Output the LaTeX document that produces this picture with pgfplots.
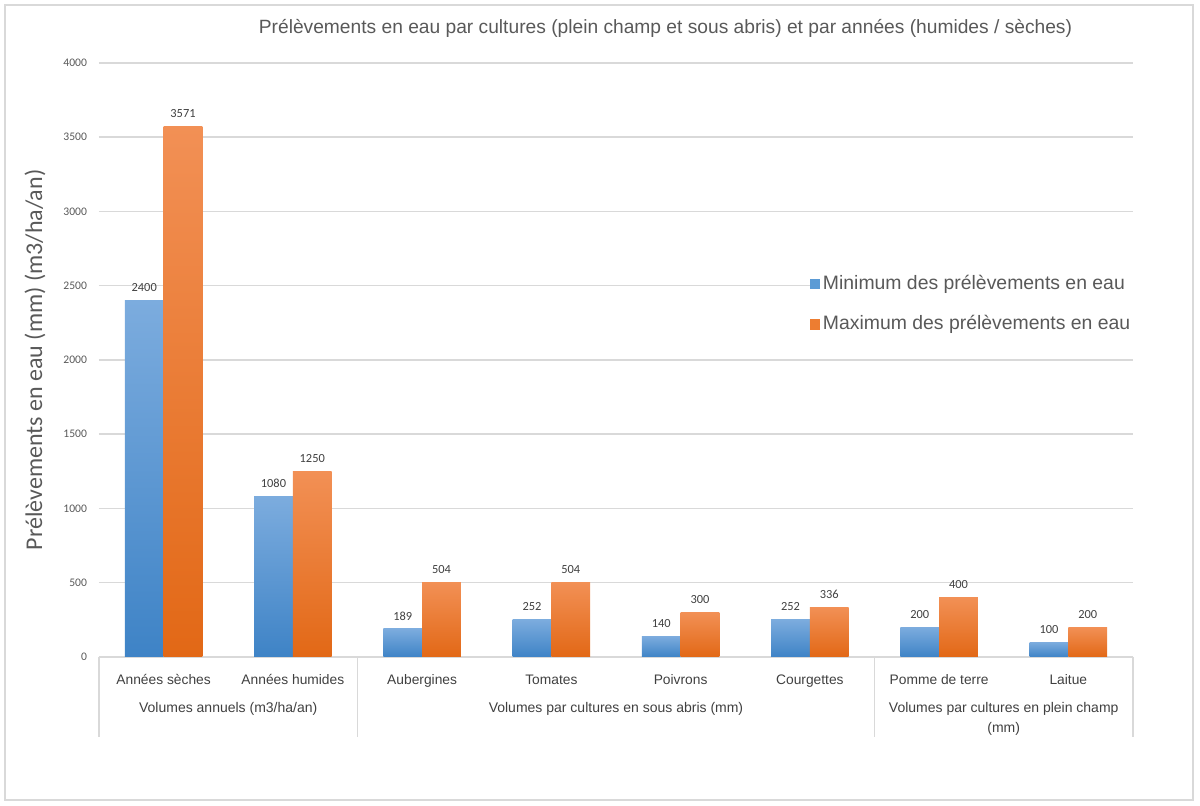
\documentclass[border=0pt]{standalone}
\usepackage{pgfplots}
\usepackage{pgfplotstable}
\pgfplotsset{compat=1.18}
\usepackage{fontspec}
\setmainfont{Liberation Sans}
\newfontfamily\carlito{Carlito}

\definecolor{gridc}{HTML}{D9D9D9}
\definecolor{txt}{HTML}{595959}
\definecolor{lab}{HTML}{404040}
\definecolor{blueT}{HTML}{7CACDE}
\definecolor{blueB}{HTML}{3E83C6}
\definecolor{blueM}{HTML}{5B9BD5}
\definecolor{orT}{HTML}{F29055}
\definecolor{orB}{HTML}{E26816}
\definecolor{orM}{HTML}{ED7D31}

% i : position, mini / maxi : prelevements
\pgfplotstableread{
i mini maxi
0 2400 3571
1 1080 1250
2 189  504
3 252  504
4 140  300
5 252  336
6 200  400
7 100  200
}\data

\begin{document}
\begin{tikzpicture}
\useasboundingbox (-49.5pt,-74.5pt) rectangle (550.5pt,328.5pt);
\draw[gridc, line width=1pt] (-47pt,-71.5pt) rectangle (547pt,326pt);

\begin{axis}[
  at={(0pt,0pt)}, anchor=south west,
  scale only axis, width=517pt, height=297pt,
  clip=false,
  xmin=-0.5, xmax=7.5, ymin=0, ymax=4000,
  axis line style={draw=none},
  ytick={0,500,...,4000},
  ymajorgrids,
  y grid style={gridc, line width=0.75pt},
  major tick length=0pt,
  ytick style={draw=none},
  yticklabel style={font=\carlito\fontsize{5.8}{6}\selectfont, text=txt, xshift=-2.5pt},
  xtick={0,...,7},
  xtick style={draw=none},
  xticklabels={Années sèches, Années humides, Aubergines, Tomates, Poivrons, Courgettes, Pomme de terre, Laitue},
  xticklabel style={font=\fontsize{6.9}{8}\selectfont, text=lab, yshift=-4.5pt,
    text height=5.6pt, text depth=1.4pt},
  /pgf/number format/assume math mode=true,
  /pgf/number format/1000 sep={},
  ybar, bar width=0.3,
  nodes near coords,
  every node near coord/.append style={font=\carlito\fontsize{6.2}{7}\selectfont, text=lab, yshift=0.8pt},
  legend style={at={(rel axis cs:0.687,0.594)}, anchor=west, draw=none, fill=white,
    inner sep=0pt, row sep=7.5pt, font=\fontsize{9.7}{11}\selectfont, text=txt,
    nodes={inner xsep=1.6pt}},
  legend cell align=left,
]
% une barre par plot pour que le degrade suive chaque barre
\pgfplotsinvokeforeach{0,...,7}{
  \addplot[forget plot, bar shift=-0.15, draw=none, top color=blueT, bottom color=blueB,
    restrict x to domain=#1:#1] table[x=i, y=mini] {\data};
  \addplot[forget plot, bar shift=0.15, draw=none, top color=orT, bottom color=orB,
    restrict x to domain=#1:#1] table[x=i, y=maxi] {\data};
}
\addlegendimage{legend image code/.code={\fill[blueM] (0pt,-2.3pt) rectangle (4.6pt,2.3pt);}}
\addlegendentry{Minimum des prélèvements en eau}
\addlegendimage{legend image code/.code={\fill[orM] (0pt,-2.3pt) rectangle (4.6pt,2.3pt);}}
\addlegendentry{Maximum des prélèvements en eau}

% separateurs des groupes
\draw[gridc, line width=0.75pt] (axis cs:-0.5,0) -- ++(0pt,-40pt);
\draw[gridc, line width=0.75pt] (axis cs:1.5,0) -- ++(0pt,-40pt);
\draw[gridc, line width=0.75pt] (axis cs:5.5,0) -- ++(0pt,-40pt);
\draw[gridc, line width=0.75pt] (axis cs:7.5,0) -- ++(0pt,-40pt);
\node[anchor=north, yshift=-19.2pt, font=\fontsize{7}{9.8}\selectfont, text=lab, align=center]
  at (axis cs:0.5,0) {Volumes annuels (m3/ha/an)};
\node[anchor=north, yshift=-19.2pt, font=\fontsize{7}{9.8}\selectfont, text=lab, align=center]
  at (axis cs:3.5,0) {Volumes par cultures en sous abris (mm)};
\node[anchor=north, yshift=-19.2pt, font=\fontsize{7}{9.8}\selectfont, text=lab, align=center]
  at (axis cs:6.5,0) {Volumes par cultures en plein champ\\(mm)};
\end{axis}

\node[font=\fontsize{9.6}{11}\selectfont, text=txt] at (283.25pt,314.5pt)
  {Prélèvements en eau par cultures (plein champ et sous abris) et par années (humides / sèches)};
\node[rotate=90, font=\carlito\fontsize{12}{14}\selectfont, text=txt] at (-32pt,148.5pt)
  {Prélèvements en eau (mm) (m3/ha/an)};
\end{tikzpicture}
\end{document}
